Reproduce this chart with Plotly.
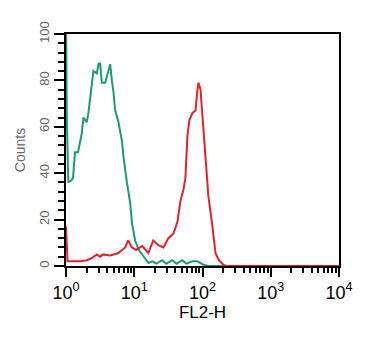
import plotly.graph_objects as go

# Data (FL2-H channel value, counts)
green_x = [1.0, 1.027, 1.081, 1.213, 1.267, 1.355, 1.50, 1.70, 1.80, 2.02, 2.13, 2.39, 2.52,
           2.83, 2.99, 3.16, 3.35, 3.75, 3.97, 4.44, 4.70, 4.96, 5.26, 5.87, 6.59, 6.96,
           7.81, 8.74, 9.25, 10.3, 11.6, 13.7, 16.2, 18.4, 21.1, 25.8, 29.5, 36.3, 41.6,
           50.9, 57.9, 71.0, 84.5, 103, 122, 10000]
green_y = [110, 65, 36, 37, 38, 49, 49, 57, 64, 62, 66, 79, 84,
           83, 87, 87.5, 79, 79, 82, 87, 80, 75, 67, 62, 54, 47,
           36, 27, 18.5, 11, 7, 4, 1.3, 2, 1, 2.5, 1, 2.5, 1,
           2.5, 1, 2, 2, 0.5, 0, 0]

red_x = [1.0, 1.027, 1.052, 1.225, 1.61, 2.02, 2.41, 2.83, 3.16, 3.50, 4.44, 5.77, 7.37,
         8.15, 9.25, 10.6, 13.1, 16.1, 19.0, 22.5, 26.7, 31.6, 37.5, 42.9, 47.5, 52.6,
         56.2, 60.1, 64.4, 71.3, 78.9, 84.4, 87.3, 93.5, 100, 111, 122, 140, 155, 172,
         204, 225, 10000]
red_y = [17, 8, 2, 2, 2, 2.5, 3.5, 5, 4, 5, 4.5, 5.5, 8,
         11, 8, 7, 8.6, 5.6, 11, 9, 8, 12, 14, 19, 28, 33,
         38, 56, 63, 66, 67, 76, 79, 76, 64, 49, 30, 17, 5.6, 2.6,
         0.4, 0, 0]

x_tickvals = [1, 10, 100, 1000, 10000]
x_ticktext = ["10<sup>0</sup>", "10<sup>1</sup>", "10<sup>2</sup>", "10<sup>3</sup>", "10<sup>4</sup>"]
y_tickvals = [0, 20, 40, 60, 80, 100]

GREEN = "#1f9a70"
RED = "#dc252d"

fig = go.Figure()
fig.add_trace(go.Scatter(x=green_x, y=green_y, mode="lines",
                         line=dict(color=GREEN, width=2), showlegend=False))
fig.add_trace(go.Scatter(x=red_x, y=red_y, mode="lines",
                         line=dict(color=RED, width=2), showlegend=False))

minor_x = [m * 10 ** d for d in range(4) for m in range(2, 10)]

fig.update_layout(
    width=372, height=330,
    margin=dict(l=58, r=41, t=26, b=72, autoexpand=False),
    paper_bgcolor="white", plot_bgcolor="white",
    font=dict(family="Liberation Sans, Arial, sans-serif", color="black"),
    xaxis=dict(
        type="log", range=[0, 4],
        tickvals=x_tickvals, ticktext=x_ticktext,
        ticks="outside", ticklen=9, tickwidth=2, tickcolor="black",
        showline=True, linecolor="black", linewidth=2, mirror=True,
        showgrid=False, zeroline=False, automargin=False,
        tickfont=dict(size=18, color="black"),
        title=dict(text="FL2-H", font=dict(size=17, color="black"), standoff=2),
        minor=dict(tickvals=minor_x, ticks="outside", ticklen=5, tickwidth=2,
                   tickcolor="black", showgrid=False),
    ),
    yaxis=dict(
        range=[0, 100],
        tickvals=y_tickvals, tickangle=-90,
        ticks="outside", ticklen=10, tickwidth=2, tickcolor="black",
        showline=True, linecolor="black", linewidth=2, mirror=True,
        showgrid=False, zeroline=False, automargin=False,
        tickfont=dict(size=13, color="#666666"),
        title=dict(text="Counts", font=dict(size=14, color="#666666"), standoff=8),
        minor=dict(dtick=4, ticks="outside", ticklen=6, tickwidth=2,
                   tickcolor="black", showgrid=False),
    ),
)

fig.write_html("out.html")
